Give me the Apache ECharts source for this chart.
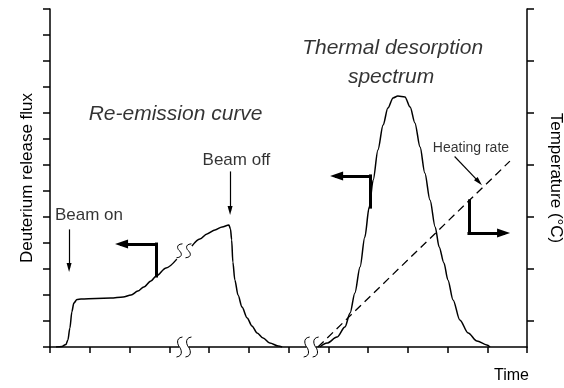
<!DOCTYPE html>
<html>
<head>
<meta charset="utf-8">
<script src="https://cdn.jsdelivr.net/npm/echarts@6/dist/echarts.min.js"></script>
<style>
  html, body { margin: 0; padding: 0; background: #fff; }
  #chart { width: 564px; height: 388px; }
</style>
</head>
<body>
<div id="chart"></div>
<script>
const FONT = '"Liberation Sans", Arial, sans-serif';

// re-emission curve: time in x-tick units, flux in left-axis tick units ('-' = axis break)
const reTime = [0.15, 0.30, 0.40, 0.45, 0.50, 0.55, 0.60, 0.68, 0.78, 1.16, 1.53, 1.84, 2.04, 2.21, 2.36, 2.54, 2.67, 2.92, 3.19, 3.37,
  3.57, 3.77, 3.95, 4.15, 4.33, 4.50, 4.54, 4.57, 4.60, 4.65, 4.73, 4.83, 4.96, 5.08, 5.21, 5.36, 5.53, 5.74, 5.84];
const reFlux = [0, 0.02, 0.10, 0.27, 0.73, 1.35, 1.69, 1.83, 1.85, 1.87, 1.88, 1.92, 2.00, 2.15, 2.31, 2.54, 2.73, 3.04, 3.38, '-',
  3.88, 4.15, 4.35, 4.50, 4.62, 4.69, 4.54, 4.12, 3.27, 2.58, 2.00, 1.54, 1.12, 0.81, 0.54, 0.35, 0.15, 0.04, 0];

// thermal desorption spectrum
const tdsTime = [6.79, 6.97, 7.22, 7.42, 7.55, 7.67, 7.80, 7.92, 8.03, 8.13, 8.25, 8.38, 8.50, 8.63, 8.75, 8.93,
  9.06, 9.18, 9.31, 9.43, 9.56, 9.69, 9.79, 9.91, 10.01, 10.14, 10.31, 10.52, 10.74, 10.99, 11.07];
const tdsFlux = [0, 0.15, 0.38, 0.77, 1.31, 2.08, 3.08, 4.23, 5.38, 6.42, 7.58, 8.54, 9.19, 9.58, 9.65, 9.62,
  9.23, 8.62, 7.69, 6.69, 5.65, 4.62, 3.85, 3.23, 2.58, 1.81, 1.04, 0.54, 0.23, 0.08, 0];

// heating ramp, read on the temperature axis
const heatTime = [6.74, 11.57];
const heatTemp = [0, 7.15];

// "S S" break marks (on the curve and on the time axis)
const breakTime = [3.37, 3.37, 6.57];
const breakLevel = [3.70, 0, 0];

// right axis ticks
const tempTicks = [1, 3, 5, 7, 9, 11, 13];

// annotations
const noteText = ['Re-emission curve', 'Thermal desorption', 'spectrum', 'Beam on', 'Beam off', 'Heating rate'];
const noteTime = [3.16, 8.62, 8.58, 0.98, 4.69, 10.59];
const noteLevel = [8.96, 11.50, 10.38, 5.08, 7.19, 7.65];

// thin pointer arrows
const pointerFrom = [[0.48, 4.50], [4.53, 6.73], [10.19, 7.31]];
const pointerTo = [[0.48, 3.06], [4.53, 5.25], [10.79, 6.35]];

// L-shaped axis arrows: foot on the curve, corner, arrow head
const turnFoot = [[2.67, 2.73], [8.05, 5.38], [10.54, 5.62]];
const turnCorner = [[2.67, 3.96], [8.05, 6.58], [10.54, 4.38]];
const turnTip = [[1.80, 3.96], [7.21, 6.58], [11.41, 4.38]];

const zip = (xs, ys) => xs.map((x, i) => [x, ys[i]]);

const arrowLines = [];
pointerFrom.forEach((p, i) => {
  arrowLines.push([
    { coord: p, symbol: 'none', lineStyle: { width: 1.2 } },
    { coord: pointerTo[i], symbol: 'triangle', symbolSize: [5, 9] }
  ]);
});
turnFoot.forEach((p, i) => {
  arrowLines.push([
    { coord: p, symbol: 'none', lineStyle: { width: 3 } },
    { coord: turnCorner[i], symbol: 'none' }
  ]);
  arrowLines.push([
    { coord: turnCorner[i], symbol: 'none', lineStyle: { width: 3 } },
    { coord: turnTip[i], symbol: 'triangle', symbolSize: [9, 13] }
  ]);
});

function sPath(b, a) {
  return `M${b} ${-a} C${-1.6 * b} ${-0.9 * a} ${-0.4 * b} ${-0.1 * a} 0 0 ` +
    `C${0.4 * b} ${0.1 * a} ${1.6 * b} ${0.9 * a} ${-b} ${a}`;
}

const axisLine = { show: true, onZero: false, lineStyle: { color: '#000', width: 1.5 } };
const axisTick = { show: true, inside: false, length: 7, lineStyle: { color: '#000', width: 1.5 } };
const curveStyle = { color: '#000', width: 1.5 };

const chart = echarts.init(document.getElementById('chart'), null, { renderer: 'canvas' });

chart.setOption({
  animation: false,
  backgroundColor: '#fff',
  grid: { left: 50, right: 37, top: 9, bottom: 41, outerBoundsMode: 'none' },
  xAxis: {
    type: 'value',
    min: 0,
    max: 12,
    interval: 1,
    axisLine,
    axisTick: { ...axisTick, length: 6 },
    axisLabel: { show: false },
    splitLine: { show: false },
    name: 'Time',
    nameLocation: 'end',
    nameGap: 2,
    nameTextStyle: {
      fontFamily: FONT, fontSize: 16, color: '#000',
      align: 'right', verticalAlign: 'top', padding: [21, 0, 0, 0]
    }
  },
  yAxis: [
    {
      type: 'value',
      min: 0,
      max: 13,
      interval: 1,
      axisLine,
      axisTick,
      axisLabel: { show: false },
      splitLine: { show: false },
      name: 'Deuterium release flux',
      nameLocation: 'middle',
      nameGap: 14,
      nameTextStyle: { fontFamily: FONT, fontSize: 17, color: '#000' }
    },
    {
      type: 'value',
      position: 'right',
      min: 0,
      max: 13,
      interval: 1,
      axisLine,
      axisTick: { ...axisTick, customValues: tempTicks },
      axisLabel: { show: false, customValues: tempTicks },
      splitLine: { show: false },
      name: 'Temperature (°C)',
      nameLocation: 'middle',
      nameRotate: -90,
      nameGap: 20,
      nameTextStyle: { fontFamily: FONT, fontSize: 17, color: '#000' }
    }
  ],
  series: [
    {
      name: 'Re-emission',
      type: 'line',
      data: zip(reTime, reFlux),
      showSymbol: false,
      smooth: 0.3,
      smoothMonotone: 'x',
      connectNulls: false,
      lineStyle: curveStyle,
      silent: true,
      markLine: {
        silent: true,
        animation: false,
        symbol: ['none', 'none'],
        label: { show: false },
        lineStyle: { color: '#000', type: 'solid', width: 1.2, cap: 'square' },
        data: arrowLines
      }
    },
    {
      name: 'TDS',
      type: 'line',
      data: zip(tdsTime, tdsFlux),
      showSymbol: false,
      smooth: 0.3,
      smoothMonotone: 'x',
      lineStyle: curveStyle,
      silent: true
    },
    {
      name: 'Heating rate',
      type: 'line',
      yAxisIndex: 1,
      data: zip(heatTime, heatTemp),
      showSymbol: false,
      lineStyle: { color: '#000', width: 1.3, type: [8, 5] },
      silent: true
    },
    {
      name: 'Breaks',
      type: 'custom',
      data: zip(breakTime, breakLevel),
      silent: true,
      clip: false,
      renderItem: (params, api) => {
        const p = api.coord([api.value(0), api.value(1)]);
        const onAxis = api.value(1) === 0;
        const a = onAxis ? 10 : 7;
        const d = 4.5;
        const s = { fill: 'none', stroke: '#000', lineWidth: 1 };
        const children = [
          { type: 'path', x: -d, shape: { pathData: sPath(3, a) }, style: s },
          { type: 'path', x: d, shape: { pathData: sPath(3, a) }, style: s }
        ];
        if (onAxis) {
          children.unshift({ type: 'rect', shape: { x: -d, y: -2, width: 2 * d, height: 4 }, style: { fill: '#fff' } });
        }
        return { type: 'group', x: p[0], y: p[1], children };
      }
    },
    {
      name: 'Notes',
      type: 'scatter',
      symbolSize: 1,
      itemStyle: { color: 'transparent' },
      silent: true,
      data: noteText.map((t, i) => ({
        name: t,
        value: [noteTime[i], noteLevel[i]],
        label: {
          show: true,
          position: 'inside',
          formatter: '{b}',
          fontFamily: FONT,
          color: '#000',
          fontStyle: i < 3 ? 'italic' : 'normal',
          fontSize: i < 3 ? 21 : (i < 5 ? 17 : 14)
        }
      }))
    }
  ]
});
</script>
</body>
</html>
